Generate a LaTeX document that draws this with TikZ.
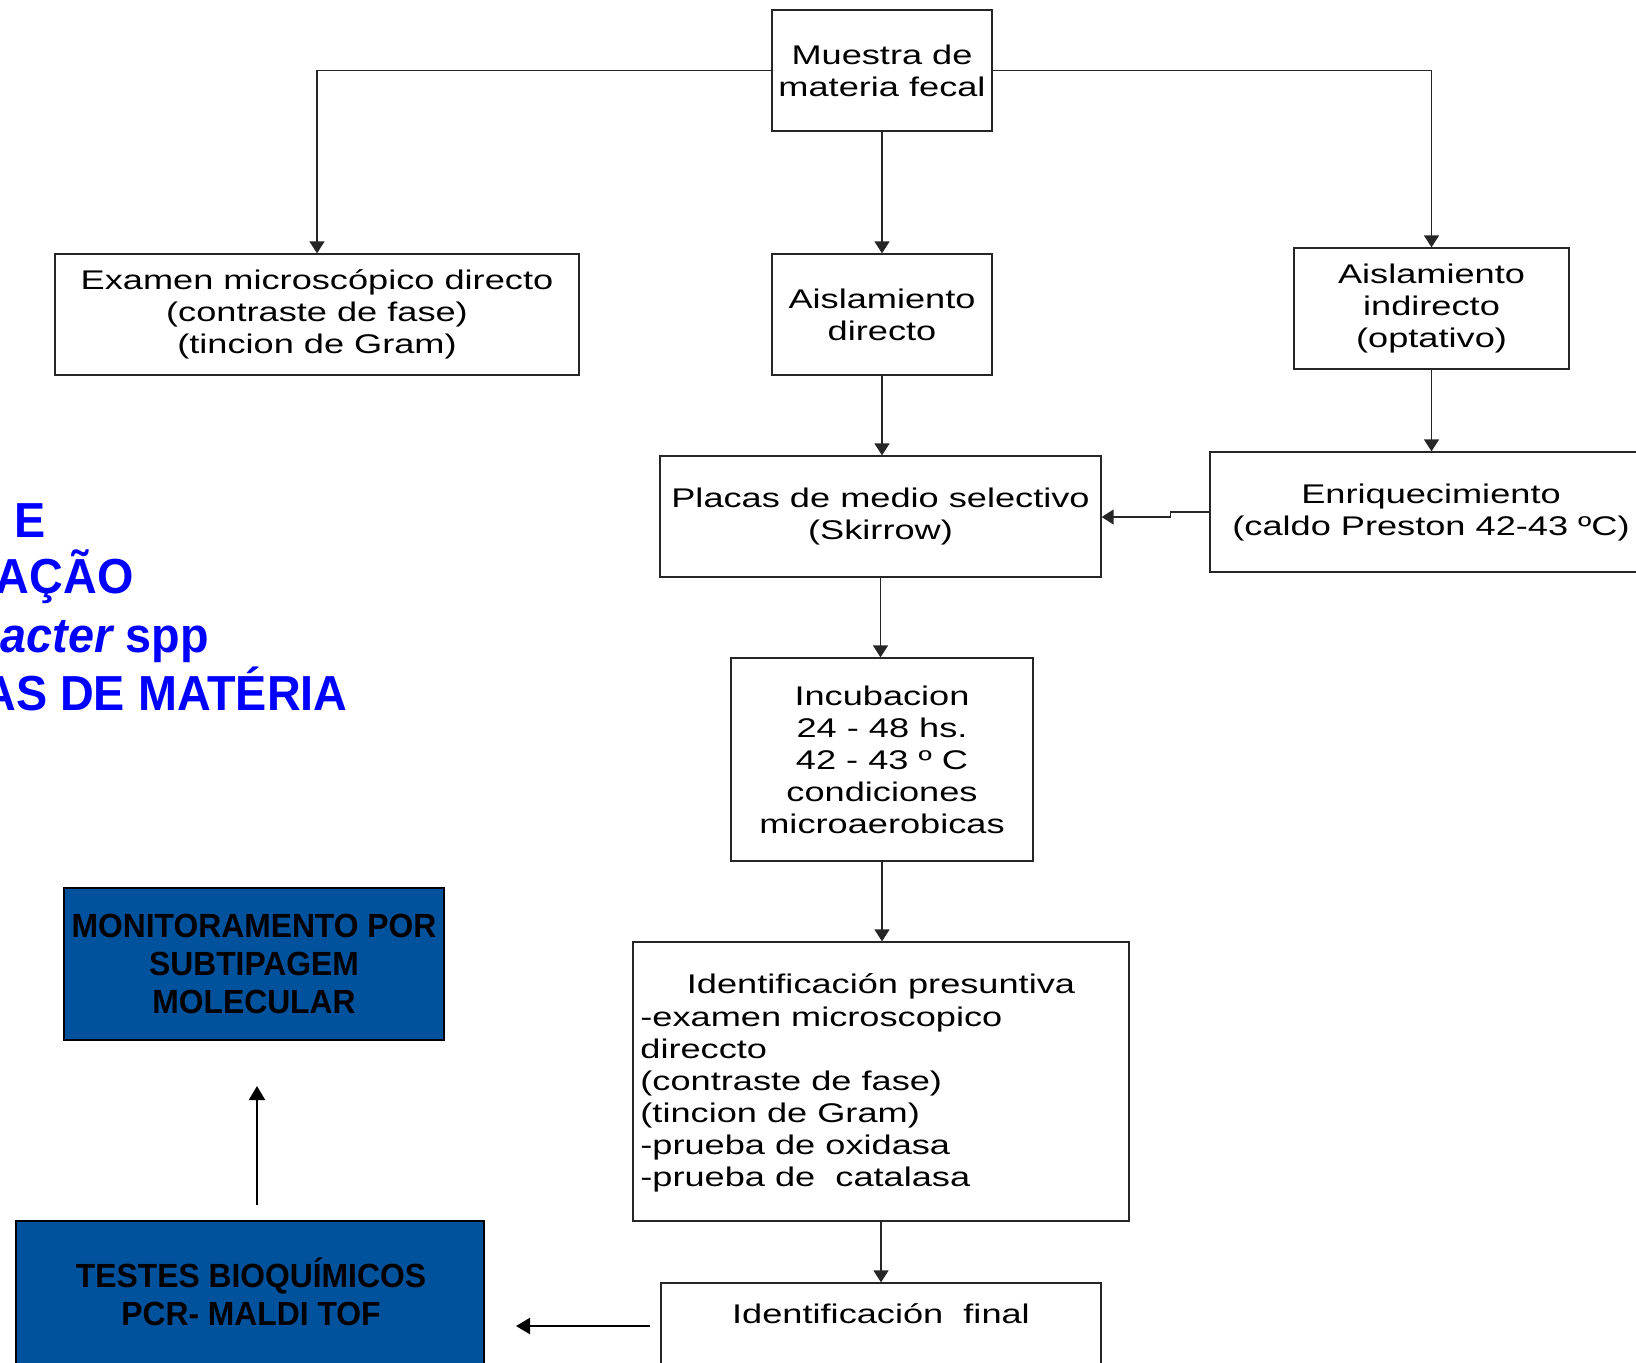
\documentclass[tikz,border=0pt]{standalone}
\usepackage{fontspec}
\setmainfont{Liberation Sans}
\newfontfamily\boxfont[FakeStretch=1.34]{Liberation Sans}
\newfontfamily\boldfont[FakeStretch=0.95]{Liberation Sans}
\usetikzlibrary{arrows.meta}
\definecolor{boxblue}{RGB}{0,82,156}
\begin{document}
\begin{tikzpicture}[x=0.5pt,y=-0.5pt,
  box/.style={draw=black!85, line width=0.65pt, inner sep=0pt, align=center,
    font=\boxfont\fontsize{13.5pt}{16pt}\selectfont},
  txt/.style={inner sep=0pt, font=\boxfont\fontsize{13.5pt}{16pt}\selectfont},
  bluebox/.style={draw=black, fill=boxblue, line width=0.8pt, inner sep=0pt, align=center,
    font=\boldfont\bfseries\fontsize{16.75pt}{19pt}\selectfont},
  bluetxt/.style={inner sep=0pt, align=center,
    font=\boldfont\bfseries\fontsize{16.75pt}{19pt}\selectfont},
  conn/.style={line width=0.7pt, draw=black!85, -{Triangle[length=6pt,width=7.5pt]}},
  thickarr/.style={line width=1.1pt, -{Triangle[length=7pt,width=8pt]}},
  titletxt/.style={text=blue, inner sep=0pt, anchor=base east,
    font=\boldfont\bfseries\fontsize{24.6pt}{29pt}\selectfont}]
\useasboundingbox (0,0) rectangle (1636,1362);
\clip (0,0) rectangle (1636,1362);

% title fragments
\node[titletxt] (t1) at (46,537) {E};
\node[titletxt] (t2) at (134,593) {AÇÃO};
\node[titletxt] (t3) at (209,652) {\itshape acter\upshape{} spp};
\node[titletxt] (t4) at (348,710) {AS DE MATÉRIA};

% boxes
\node[box, minimum width=110pt, minimum height=60.5pt] (muestra) at (882,70.5) {Muestra de\\materia fecal};
\node[box, minimum width=262pt, minimum height=60.5pt] (examen) at (317,314.5) {Examen microscópico directo\\(contraste de fase)\\(tincion de Gram)};
\node[box, minimum width=110pt, minimum height=60.5pt] (directo) at (882,314.5) {Aislamiento\\directo};
\node[box, minimum width=137.5pt, minimum height=60.5pt] (indirecto) at (1431.5,308.5) {Aislamiento\\indirecto\\(optativo)};
\node[box, minimum width=220.5pt, minimum height=60.5pt] (placas) at (880.5,516.5) {Placas de medio selectivo\\(Skirrow)};
\node[box, minimum width=221pt, minimum height=60pt] (enriq) at (1431,512) {Enriquecimiento\\(caldo Preston 42-43 ºC)};
\node[box, minimum width=151pt, minimum height=101.5pt] (incub) at (882,759.5) {Incubacion\\24 - 48 hs.\\42 - 43 º C\\condiciones\\microaerobicas};
\node[box, minimum width=248pt, minimum height=139.5pt] (pres) at (881,1081.5) {};
\node[txt, anchor=base] (presT) at (881,993) {Identificación presuntiva};
\node[txt, anchor=base west, align=left] (presL) at (640,1186) {-examen microscopico\\direccto\\(contraste de fase)\\(tincion de Gram)\\-prueba de oxidasa\\-prueba de\ \ catalasa};
\node[box, minimum width=220pt, minimum height=48.5pt] (final) at (881,1331.5) {};
\node[txt, anchor=base] (finalT) at (881,1323) {Identificación\ \ final};

\node[bluebox, minimum width=190pt, minimum height=76pt] (monitor) at (254,964) {MONITORAMENTO POR\\SUBTIPAGEM\\MOLECULAR};
\node[bluebox, minimum width=234pt, minimum height=89.5pt] (testes) at (250,1310.5) {};
\node[bluetxt, anchor=base] (testesT) at (251,1325) {TESTES BIOQUÍMICOS\\PCR- MALDI TOF};

% connectors
\draw[conn] (muestra.west) -| (examen.north);
\draw[conn] (muestra.east) -| (indirecto.north);
\draw[conn] (muestra.south) -- (directo.north);
\draw[conn] (directo.south) -- (directo.south |- placas.north);
\draw[conn] (placas.south) -- (placas.south |- incub.north);
\draw[conn] (incub.south) -- (incub.south |- pres.north);
\draw[conn] (pres.south) -- (pres.south |- final.north);
\draw[conn] (indirecto.south) -- (indirecto.south |- enriq.north);
\draw[conn] (enriq.west) -- ++(-39,0) -- ++(0,5) -- (placas.east |- 0,517);

\coordinate (upS) at (257,1205);
\coordinate (upE) at (257,1086);
\draw[thickarr] (upS) -- (upE);
\coordinate (lfS) at (650,1326);
\coordinate (lfE) at (516,1326);
\draw[thickarr] (lfS) -- (lfE);
\end{tikzpicture}
\end{document}
